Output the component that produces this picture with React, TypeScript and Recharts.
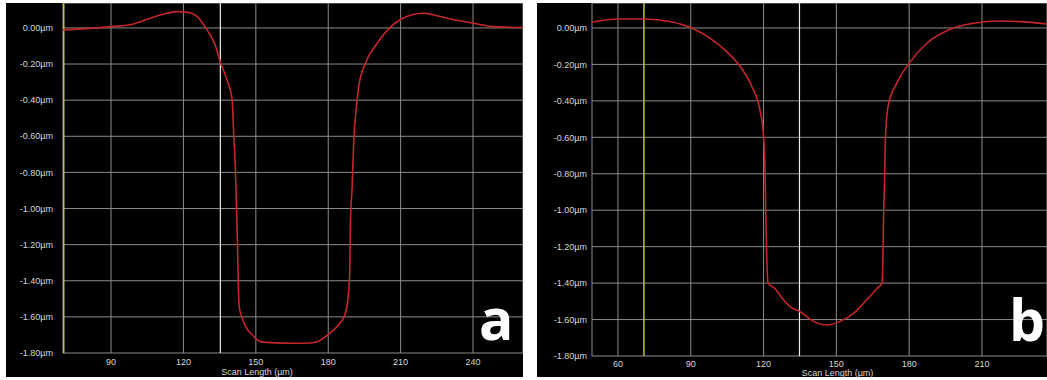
import { LineChart, Line, XAxis, YAxis, CartesianGrid, ReferenceLine } from "recharts";

// panel a: scan profile (µm, µm)
const A_X = [
  70.1, 80, 90.2, 99.4, 106.3, 113.2, 117.4, 121.5, 125.7, 129.8, 133.3, 135.3, 138.1, 140.2,
  140.8, 141.5, 142.0, 142.4, 142.7, 143.2, 144.2, 146, 148.5, 151.9, 158, 165.6, 172.6, 176,
  178.8, 181.6, 185.1, 187.1, 188.1, 188.9, 189.2, 189.9, 190.6, 191.7, 192.6, 195.4, 200.3,
  206.0, 210.1, 215.6, 219.6, 223.7, 229.3, 240.3, 248.6, 260.9,
];
const A_Y = [
  -0.011, -0.004, 0.007, 0.022, 0.054, 0.081, 0.09, 0.087, 0.063, -0.011, -0.1, -0.19, -0.29,
  -0.4, -0.58, -0.77, -1.0, -1.2, -1.4, -1.55, -1.6, -1.66, -1.7, -1.737, -1.744, -1.746,
  -1.745, -1.735, -1.71, -1.68, -1.63, -1.58, -1.506, -1.36, -1.08, -0.88, -0.62, -0.436,
  -0.325, -0.196, -0.085, 0.007, 0.048, 0.076, 0.081, 0.072, 0.054, 0.026, 0.007, 0.002,
];

// panel b
const B_X = [
  49.4, 60.1, 70.8, 81.4, 90.6, 98.0, 104.8, 110.3, 115.1, 118.5, 119.9, 120.6, 120.9, 121.2,
  121.9, 124.7, 128.1, 131, 135.1, 140.6, 146.1, 151.6, 157.1, 162.6, 166.7, 168.8, 169.2,
  169.5, 169.8, 170.2, 171.3, 175.0, 180.2, 187.3, 196.9, 206.5, 217.5, 225.8, 236.8,
];
const B_Y = [
  0.031, 0.049, 0.049, 0.035, -0.002, -0.057, -0.13, -0.21, -0.32, -0.45, -0.58, -0.78, -1.0,
  -1.2, -1.4, -1.43, -1.49, -1.53, -1.557, -1.61, -1.63, -1.61, -1.566, -1.49, -1.43, -1.4,
  -1.255, -1.0, -0.88, -0.61, -0.43, -0.3, -0.19, -0.084, -0.007, 0.026, 0.038, 0.035, 0.022,
];

const A_TICKS = [90, 120, 150, 180, 210, 240];
const B_TICKS = [60, 90, 120, 150, 180, 210];
const Y_TICKS = [0, -0.2, -0.4, -0.6, -0.8, -1.0, -1.2, -1.4, -1.6, -1.8];

const TEXT = "#d6d6d6";
const FONT = "'Liberation Sans', Arial, sans-serif";

type PanelProps = {
  xs: number[];
  ys: number[];
  ticks: number[];
  xDomain: [number, number];
  yTop: number;
  left: number;
  width: number;
  yAxisWidth: number;
  yMargin: number;
  xAxisHeight: number;
  xTickMargin: number;
  titleDx: number;
  titleOffset: number;
  cursor: number;
  marker: number;
  letter: string;
  letterLeft: number;
  letterTop: number;
};

function Panel(p: PanelProps) {
  const data = p.xs.map((x, i) => ({ x, y: p.ys[i] }));
  return (
    <div
      style={{
        position: "absolute",
        left: p.left,
        top: 3,
        width: p.width,
        height: 374,
        background: "#000",
      }}
    >
      <LineChart width={p.width} height={374} data={data} margin={{ top: 0, right: 0, bottom: 0, left: 0 }}>
        <CartesianGrid stroke="#8c8c8c" strokeWidth={1} />
        <XAxis
          type="number"
          dataKey="x"
          domain={p.xDomain}
          allowDataOverflow
          ticks={p.ticks}
          height={p.xAxisHeight}
          axisLine={false}
          tickLine={false}
          tickSize={0}
          tickMargin={p.xTickMargin}
          tick={{ fill: TEXT, fontSize: 9, fontFamily: FONT }}
          label={{
            value: "Scan Length (µm)",
            position: "insideBottom",
            offset: p.titleOffset,
            dx: p.titleDx,
            fill: TEXT,
            fontSize: 9,
            fontFamily: FONT,
          }}
        />
        <YAxis
          type="number"
          domain={[-1.8, p.yTop]}
          allowDataOverflow
          ticks={Y_TICKS}
          width={p.yAxisWidth}
          axisLine={false}
          tickLine={false}
          tickSize={0}
          tickMargin={p.yMargin}
          tickFormatter={(v: number) => `${v.toFixed(2)}µm`}
          tick={{ fill: TEXT, fontSize: 9, fontFamily: FONT }}
        />
        <ReferenceLine x={p.marker} stroke="#c2c23a" strokeWidth={1.5} />
        <ReferenceLine x={p.cursor} stroke="#eeeeee" strokeWidth={1.2} />
        <Line
          type="monotone"
          dataKey="y"
          stroke="#c4262a"
          strokeWidth={1.6}
          dot={false}
          isAnimationActive={false}
        />
      </LineChart>
      <div
        style={{
          position: "absolute",
          left: p.letterLeft,
          top: p.letterTop,
          color: "#fff",
          fontFamily: "'Open Sans', sans-serif",
          fontWeight: 700,
          fontSize: 57,
          lineHeight: 1,
        }}
      >
        {p.letter}
      </div>
    </div>
  );
}

export default function App() {
  return (
    <div style={{ position: "absolute", left: 0, top: 0, width: 1047, height: 380, background: "#fff" }}>
      <Panel
        xs={A_X}
        ys={A_Y}
        ticks={A_TICKS}
        xDomain={[70.1, 260.7]}
        yTop={0.138}
        left={6}
        width={517}
        yAxisWidth={57}
        yMargin={10}
        xAxisHeight={24}
        xTickMargin={6}
        titleDx={-36}
        titleOffset={2}
        cursor={135.3}
        marker={70.4}
        letter="a"
        letterLeft={473}
        letterTop={287}
      />
      <Panel
        xs={B_X}
        ys={B_Y}
        ticks={B_TICKS}
        xDomain={[49.3, 236.8]}
        yTop={0.137}
        left={537}
        width={510}
        yAxisWidth={55}
        yMargin={5}
        xAxisHeight={21}
        xTickMargin={5}
        titleDx={18}
        titleOffset={1}
        cursor={134.8}
        marker={70.7}
        letter="b"
        letterLeft={472}
        letterTop={288}
      />
    </div>
  );
}
